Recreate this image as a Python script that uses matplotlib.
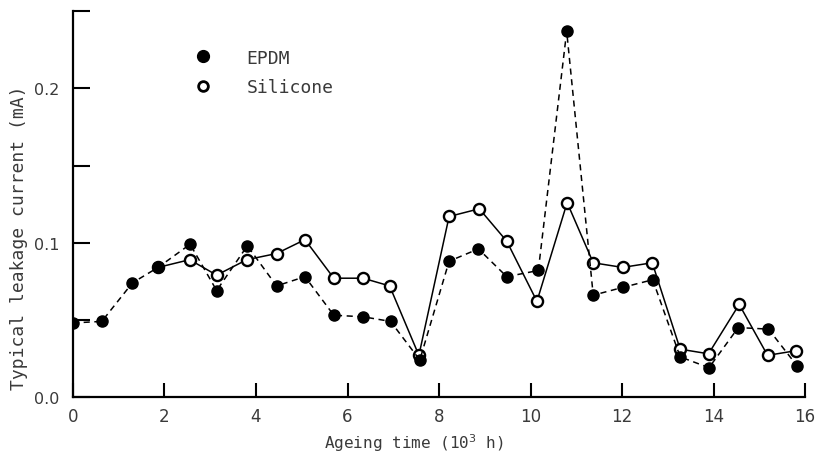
import matplotlib
matplotlib.use("Agg")
import matplotlib.pyplot as plt
from matplotlib.lines import Line2D

# Data
epdm_time = [0.0, 0.63, 1.30, 1.86, 2.56, 3.14, 3.81, 4.45, 5.07, 5.70, 6.34, 6.94, 7.58,
             8.22, 8.86, 9.48, 10.17, 10.79, 11.37, 12.01, 12.67, 13.27, 13.90, 14.54, 15.20, 15.83]
epdm_current = [0.048, 0.049, 0.074, 0.084, 0.099, 0.069, 0.098, 0.072, 0.078, 0.053, 0.052, 0.049, 0.024,
                0.088, 0.096, 0.078, 0.082, 0.237, 0.066, 0.071, 0.076, 0.026, 0.019, 0.045, 0.044, 0.020]

silicone_time = [1.86, 2.55, 3.14, 3.80, 4.45, 5.07, 5.70, 6.34, 6.92, 7.56, 8.22, 8.88,
                 9.48, 10.14, 10.80, 11.37, 12.01, 12.66, 13.27, 13.89, 14.56, 15.18, 15.80]
silicone_current = [0.084, 0.089, 0.079, 0.089, 0.093, 0.102, 0.077, 0.077, 0.072, 0.027, 0.117, 0.122,
                    0.101, 0.062, 0.126, 0.087, 0.084, 0.087, 0.031, 0.028, 0.060, 0.027, 0.030]

x_ticks = [0, 2, 4, 6, 8, 10, 12, 14, 16]
y_ticks = [0.0, 0.05, 0.1, 0.15, 0.2, 0.25]
y_tick_labels = ["0.0", "", "0.1", "", "0.2", ""]

text_color = "#3a3a3a"
mono = ["DejaVu Sans Mono"]

fig = plt.figure(figsize=(8.19, 4.56), dpi=100)
ax = fig.add_axes([0.0891, 0.1272, 0.8939, 0.8458])

ax.plot(silicone_time, silicone_current, color="black", linestyle="-", linewidth=1.1,
        marker="o", markersize=8, markerfacecolor="white", markeredgecolor="black",
        markeredgewidth=1.7, zorder=3)
ax.plot(epdm_time, epdm_current, color="black", linestyle=(0, (4, 3)), linewidth=1.1,
        marker="o", markersize=8, markerfacecolor="black", markeredgecolor="black",
        markeredgewidth=1.0, zorder=4)

ax.set_xlim(0, 16)
ax.set_ylim(0, 0.25)
ax.set_xticks(x_ticks)
ax.set_xticklabels([str(t) for t in x_ticks])
ax.set_yticks(y_ticks)
ax.set_yticklabels(y_tick_labels)

for s in ["top", "right"]:
    ax.spines[s].set_visible(False)
for s in ["left", "bottom"]:
    ax.spines[s].set_linewidth(1.6)
    ax.spines[s].set_color("black")

ax.tick_params(axis="y", direction="in", length=12, width=1.5, pad=10,
               labelsize=11.5, labelcolor=text_color)
ax.tick_params(axis="x", direction="in", length=10, width=1.5, pad=7,
               labelsize=12, labelcolor=text_color)

ax.set_xlabel("Ageing time (10$^3$ h)", fontsize=11.5, color=text_color, family=mono)
ax.xaxis.set_label_coords(0.466, -0.088)
ax.set_ylabel("Typical leakage current (mA)", fontsize=13, color=text_color, family=mono)
ax.yaxis.set_label_coords(-0.062, 0.415)

handles = [Line2D([], [], linestyle="none", marker="o", markersize=8.5,
                  markerfacecolor="black", markeredgecolor="black"),
           Line2D([], [], linestyle="none", marker="o", markersize=7,
                  markerfacecolor="white", markeredgecolor="black", markeredgewidth=2.0)]
leg = ax.legend(handles, ["EPDM", "Silicone"], loc="upper left",
                bbox_to_anchor=(0.143, 0.945), frameon=False, handlelength=1.0,
                handletextpad=1.9, labelspacing=0.62, prop={"family": mono, "size": 13})
for t in leg.get_texts():
    t.set_color(text_color)

fig.savefig("out.png", dpi=100)
